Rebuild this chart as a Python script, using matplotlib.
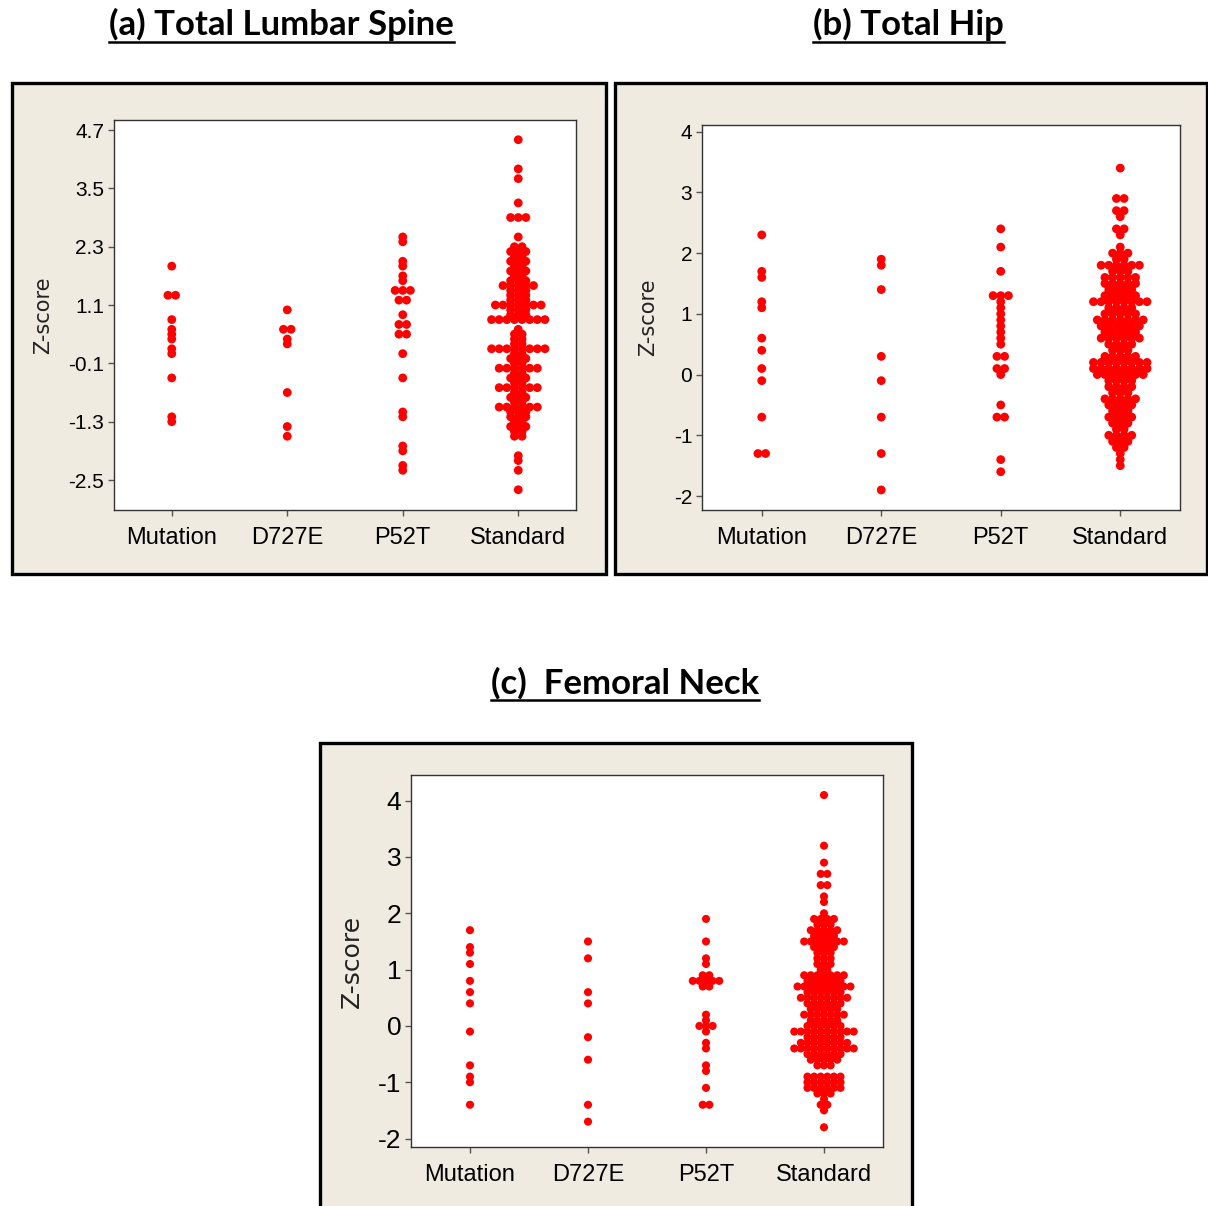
import numpy as np
import matplotlib
matplotlib.use("Agg")
import matplotlib.pyplot as plt
from matplotlib import font_manager
from matplotlib.patches import Rectangle
from matplotlib.lines import Line2D

groups = ["Mutation", "D727E", "P52T", "Standard"]

# (a) Total Lumbar Spine
spine_mutation = [1.9, 1.3, 1.3, 0.8, 0.6, 0.5, 0.4, 0.2, 0.1, -0.4, -1.2, -1.3]
spine_d727e = [1.0, 0.6, 0.6, 0.4, 0.3, -0.7, -1.4, -1.6]
spine_p52t = [2.5, 2.4, 2.0, 1.9, 1.7, 1.6, 1.4, 1.4, 1.4, 1.2, 1.2, 0.9, 0.7, 0.7,
              0.5, 0.5, 0.1, -0.4, -1.1, -1.2, -1.8, -1.9, -2.2, -2.3]
spine_std_vals = [4.5, 3.9, 3.7, 3.2, 2.9, 2.5,
                  2.3, 2.2, 2.1, 2.0, 1.9, 1.8, 1.7, 1.6, 1.5, 1.4, 1.3, 1.2, 1.1, 1.0, 0.9, 0.8,
                  0.6, 0.5, 0.4, 0.3, 0.2, 0.1, 0.0, -0.1, -0.2, -0.3, -0.4, -0.5, -0.6, -0.7,
                  -0.8, -0.9, -1.0, -1.1, -1.2, -1.3, -1.4, -1.5, -1.6,
                  -2.0, -2.1, -2.3, -2.7]
spine_std_counts = [1, 1, 1, 1, 3, 1,
                    2, 3, 2, 3, 2, 3, 2, 3, 5, 3, 3, 3, 7, 3, 3, 8,
                    1, 2, 2, 2, 8, 2, 3, 2, 6, 2, 3, 2, 6, 2,
                    3, 2, 6, 3, 3, 2, 3, 2, 2,
                    1, 1, 1, 1]
spine_ticks = [-2.5, -1.3, -0.1, 1.1, 2.3, 3.5, 4.7]

# (b) Total Hip
hip_mutation = [2.3, 1.7, 1.6, 1.2, 1.1, 0.6, 0.4, 0.1, -0.1, -0.7, -1.3, -1.3]
hip_d727e = [1.9, 1.8, 1.4, 0.3, -0.1, -0.7, -1.3, -1.9]
hip_p52t = [2.4, 2.1, 1.7, 1.3, 1.3, 1.3, 1.2, 1.1, 1.0, 0.9, 0.8, 0.7, 0.6, 0.5,
            0.3, 0.3, 0.1, 0.1, 0.0, -0.5, -0.7, -0.7, -1.4, -1.6]
hip_std_vals = [3.4, 2.9, 2.7, 2.6, 2.4, 2.3, 2.1, 2.0, 1.9, 1.8, 1.7, 1.6, 1.5, 1.4,
                1.3, 1.2, 1.1, 1.0, 0.9, 0.8, 0.7, 0.6, 0.5, 0.4, 0.3, 0.2, 0.1, 0.0,
                -0.1, -0.2, -0.3, -0.4, -0.5, -0.6, -0.7, -0.8, -0.9, -1.0, -1.1, -1.2,
                -1.3, -1.4, -1.5]
hip_std_counts = [1, 2, 2, 1, 2, 1, 1, 3, 2, 6, 3, 5, 5, 4,
                  5, 8, 4, 5, 7, 6, 5, 6, 4, 3, 5, 8, 8, 7,
                  4, 4, 3, 5, 4, 3, 4, 3, 2, 4, 3, 2,
                  1, 1, 1]
hip_ticks = [-2, -1, 0, 1, 2, 3, 4]

# (c) Femoral Neck
neck_mutation = [1.7, 1.4, 1.3, 1.1, 0.8, 0.6, 0.4, -0.1, -0.7, -0.9, -1.0, -1.4]
neck_d727e = [1.5, 1.2, 0.6, 0.4, -0.2, -0.6, -1.4, -1.7]
neck_p52t = [1.9, 1.5, 1.2, 1.1, 0.9, 0.9, 0.8, 0.8, 0.8, 0.8, 0.8, 0.7, 0.7,
             0.2, 0.1, 0.0, 0.0, 0.0, -0.1, -0.3, -0.4, -0.7, -0.8, -1.1, -1.4, -1.4]
neck_std_vals = [4.1, 3.2, 2.9, 2.7, 2.5, 2.3, 2.2, 2.0,
                 1.9, 1.8, 1.7, 1.6, 1.5, 1.4, 1.3, 1.2, 1.1, 1.0, 0.9, 0.8, 0.7, 0.6,
                 0.5, 0.4, 0.3, 0.2, 0.1, 0.0, -0.1, -0.2, -0.3, -0.4, -0.5, -0.6, -0.7,
                 -0.9, -1.0, -1.1, -1.2, -1.3, -1.4, -1.5, -1.8]
neck_std_counts = [1, 1, 1, 2, 2, 1, 1, 1,
                   4, 3, 5, 4, 7, 4, 3, 3, 3, 2, 7, 6, 9, 6,
                   8, 6, 5, 7, 5, 6, 10, 6, 8, 10, 6, 5, 3,
                   6, 6, 6, 3, 1, 2, 1, 1]
neck_ticks = [-2, -1, 0, 1, 2, 3, 4]

W, H = 1208, 1206
BEIGE = "#efebe1"
RED = "#ff0000"

names = {f.name for f in font_manager.fontManager.ttflist}
narrow = "Liberation Sans Narrow" if "Liberation Sans Narrow" in names else "Liberation Sans"
title_font = "Lato" if "Lato" in names else "DejaVu Sans"


def px_rect(x0, y0, x1, y1):
    return [x0 / W, 1 - y1 / H, (x1 - x0) / W, (y1 - y0) / H]


def spread(vals, step):
    vals = np.round(np.asarray(vals, float), 3)
    off = np.zeros_like(vals)
    for v in np.unique(vals):
        idx = np.where(vals == v)[0]
        off[idx] = (np.arange(len(idx)) - (len(idx) - 1) / 2) * step
    return off


fig = plt.figure(figsize=(W / 100, H / 100), dpi=100)

# beige framed panels
for x0, y0, x1, y1 in [(11.5, 83.5, 605.5, 574), (615, 83.5, 1206.5, 574), (319.5, 742.5, 912, 1230)]:
    fig.add_artist(Rectangle((x0 / W, 1 - y1 / H), (x1 - x0) / W, (y1 - y0) / H,
                             transform=fig.transFigure, facecolor=BEIGE, edgecolor="black",
                             lw=2.4, zorder=0))

panels = [
    dict(rect=(114, 120, 576, 510), data=[spine_mutation, spine_d727e, spine_p52t,
                                          np.repeat(spine_std_vals, spine_std_counts)],
         ylim=(-3.117, 4.906), ticks=spine_ticks, fmt="{:.1f}", step=0.066, s=40,
         ysize=15, ylab=(43, 315), ylabsize=15),
    dict(rect=(702, 125, 1180, 510), data=[hip_mutation, hip_d727e, hip_p52t,
                                           np.repeat(hip_std_vals, hip_std_counts)],
         ylim=(-2.23, 4.11), ticks=hip_ticks, fmt="{:g}", step=0.064, s=40,
         ysize=15, ylab=(648, 317), ylabsize=15),
    dict(rect=(411, 775, 883, 1147), data=[neck_mutation, neck_d727e, neck_p52t,
                                           np.repeat(neck_std_vals, neck_std_counts)],
         ylim=(-2.15, 4.456), ticks=neck_ticks, fmt="{:g}", step=0.056, s=34,
         ysize=19, ylab=(352, 961), ylabsize=18),
]

for p in panels:
    ax = fig.add_axes(px_rect(*p["rect"]))
    ax.set_facecolor("white")
    for i, vals in enumerate(p["data"]):
        x = i + 1 + spread(vals, p["step"])
        ax.scatter(x, vals, s=p["s"], color=RED, edgecolors="none", zorder=3)
    ax.set_xlim(0.5, 4.5)
    ax.set_ylim(*p["ylim"])
    ax.set_xticks(range(1, 5))
    ax.set_xticklabels(groups, fontfamily=narrow, fontsize=17)
    ax.set_yticks(p["ticks"])
    ax.set_yticklabels([p["fmt"].format(t) for t in p["ticks"]], fontfamily=narrow,
                       fontsize=p["ysize"])
    ax.tick_params(axis="x", length=4, width=1, color="#555555", pad=8)
    ax.tick_params(axis="y", length=4, width=1, color="#555555", pad=3)
    for sp in ax.spines.values():
        sp.set_color("#333333")
        sp.set_linewidth(1)
    lx, ly = p["ylab"]
    fig.text(lx / W, 1 - ly / H, "Z-score", rotation=90, ha="center", va="center",
             fontsize=p["ylabsize"], color="#222222")

# underlined bold titles
titles = [("(a) Total Lumbar Spine", 281.5, 24), ("(b) Total Hip", 908.5, 24),
          ("(c)  Femoral Neck", 625, 683)]
renderer = fig.canvas.get_renderer()
for txt, cx, cy in titles:
    t = fig.text(cx / W, 1 - cy / H, txt, ha="center", va="center", fontsize=25,
                 fontweight="bold", fontfamily=title_font)
    bb = t.get_window_extent(renderer)
    yline = bb.y0 - 1
    fig.add_artist(Line2D([bb.x0 / W, bb.x1 / W], [yline / H, yline / H],
                          transform=fig.transFigure, color="black", lw=1.8))

fig.savefig("out.png", dpi=100)
